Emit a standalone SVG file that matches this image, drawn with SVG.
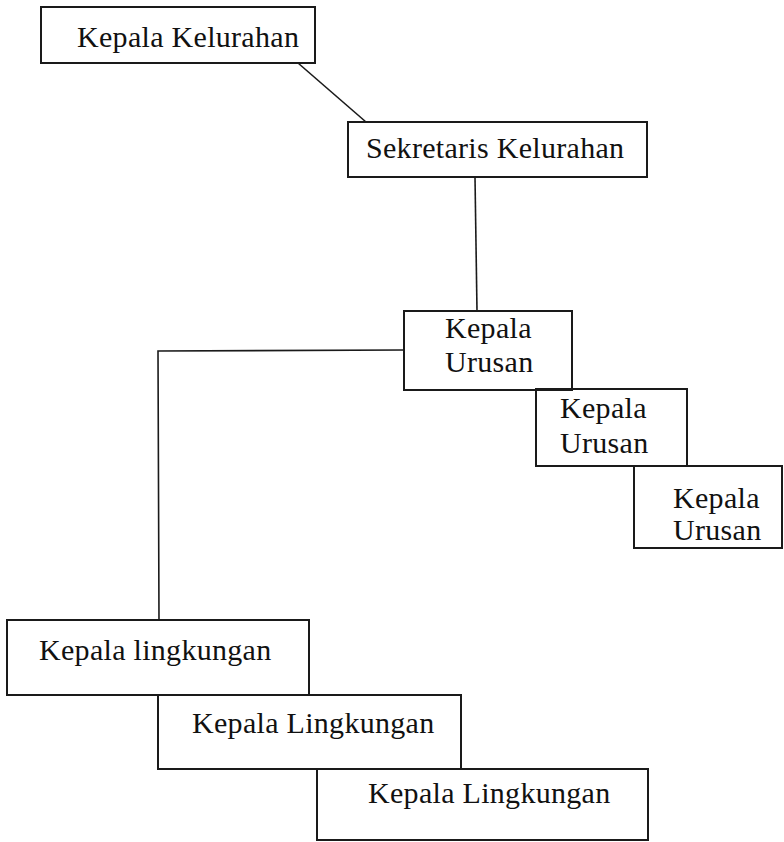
<svg xmlns="http://www.w3.org/2000/svg" width="784" height="842" viewBox="0 0 784 842">
<style>
.box{fill:none;stroke:#1a1a1a;stroke-width:2}
.lbl{font-family:"Liberation Serif","Times New Roman",serif;font-size:30px;fill:#111;letter-spacing:0.3px}
.con{fill:none;stroke:#1a1a1a;stroke-width:1.6}
</style>
<rect width="784" height="842" fill="#fff"/>
<g id="connectors">
<line class="con" x1="298" y1="63" x2="366" y2="122"/>
<line class="con" x1="475" y1="177" x2="477" y2="311"/>
<polyline class="con" points="404,350 158,351 159,620"/>
</g>
<g id="kepala-kelurahan">
<rect class="box" x="41" y="7" width="274" height="56"/>
<text class="lbl" x="77" y="47">Kepala Kelurahan</text>
</g>
<g id="sekretaris-kelurahan">
<rect class="box" x="348" y="122" width="299" height="55"/>
<text class="lbl" x="366" y="158">Sekretaris Kelurahan</text>
</g>
<g id="kepala-urusan-1">
<rect class="box" x="404" y="311" width="168" height="79"/>
<text class="lbl" x="445" y="338">Kepala</text>
<text class="lbl" x="445" y="372">Urusan</text>
</g>
<g id="kepala-urusan-2">
<rect class="box" x="536" y="389" width="151" height="77"/>
<text class="lbl" x="560" y="418">Kepala</text>
<text class="lbl" x="560" y="453">Urusan</text>
</g>
<g id="kepala-urusan-3">
<rect class="box" x="634" y="466" width="148" height="82"/>
<text class="lbl" x="673" y="508">Kepala</text>
<text class="lbl" x="673" y="540">Urusan</text>
</g>
<g id="kepala-lingkungan-1">
<rect class="box" x="7" y="620" width="302" height="75"/>
<text class="lbl" x="39" y="660">Kepala lingkungan</text>
</g>
<g id="kepala-lingkungan-2">
<rect class="box" x="158" y="695" width="303" height="74"/>
<text class="lbl" x="192" y="733">Kepala Lingkungan</text>
</g>
<g id="kepala-lingkungan-3">
<rect class="box" x="317" y="769" width="331" height="71"/>
<text class="lbl" x="368" y="803">Kepala Lingkungan</text>
</g>
</svg>
